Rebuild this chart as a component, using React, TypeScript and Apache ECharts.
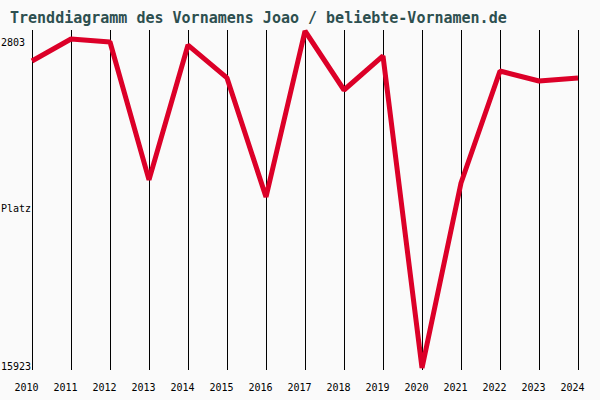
import { useEffect, useRef } from "react";
import * as echarts from "echarts";

const years = ["2010", "2011", "2012", "2013", "2014", "2015", "2016", "2017", "2018", "2019", "2020", "2021", "2022", "2023", "2024"];
const ranks = [3970, 3115, 3230, 8600, 3350, 4630, 9265, 2803, 5100, 3775, 15923, 8720, 4360, 4750, 4630];
const bestRank = "2803";
const worstRank = "15923";
const title = "Trenddiagramm des Vornamens Joao / beliebte-Vornamen.de";

const mono = "'DejaVu Sans Mono', monospace";

export default function App() {
  const chartRef = useRef<HTMLDivElement>(null);

  useEffect(() => {
    const chart = echarts.init(chartRef.current, null, { renderer: "svg" });

    chart.setOption({
      animation: false,
      backgroundColor: "#fafafa",
      title: {
        text: title,
        left: 10,
        top: 10,
        padding: 0,
        textStyle: { fontFamily: mono, fontSize: 15, fontWeight: "bold", color: "#2d4f4f" },
      },
      grid: { left: 32, right: 22, top: 30, bottom: 30 },
      xAxis: {
        type: "category",
        data: years,
        boundaryGap: false,
        axisLine: { show: false },
        axisTick: { show: false },
        axisLabel: {
          margin: 12,
          fontFamily: mono,
          fontSize: 10,
          color: "#000",
          padding: [0, 11, 0, 0],
          interval: 0,
        },
        splitLine: { show: true, lineStyle: { color: "#000", width: 1 } },
      },
      yAxis: {
        type: "value",
        inverse: true,
        min: (v: { min: number }) => v.min - 39,
        max: (v: { max: number }) => v.max + 78,
        axisLine: { show: false },
        axisTick: { show: false },
        axisLabel: { show: false },
        splitLine: { show: false },
      },
      graphic: [
        { type: "text", left: 1, top: 37, style: { text: bestRank, font: `10px ${mono}`, fill: "#000" } },
        { type: "text", left: 1, top: 203, style: { text: "Platz", font: `10px ${mono}`, fill: "#000" } },
        { type: "text", left: 1, top: 361, style: { text: worstRank, font: `10px ${mono}`, fill: "#000" } },
      ],
      series: [
        {
          type: "line",
          data: ranks,
          symbol: "none",
          lineStyle: { color: "#dc0028", width: 5 },
        },
      ],
    });

    return () => {
      chart.dispose();
    };
  }, []);

  return (
    <div
      ref={chartRef}
      style={{ width: 600, height: 400, position: "absolute", left: 0, top: 0 }}
    />
  );
}
